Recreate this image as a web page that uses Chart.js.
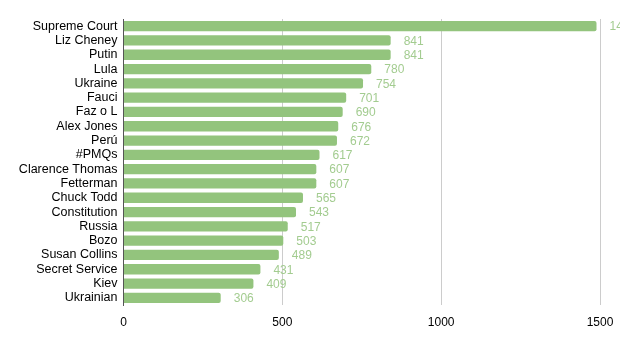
<!DOCTYPE html>
<html>
<head>
<meta charset="utf-8">
<script src="https://cdn.jsdelivr.net/npm/chart.js@4"></script>
<style>
  body { margin: 0; background: #fff; }
  canvas { display: block; }
</style>
</head>
<body>
<canvas id="chart" width="620" height="344"></canvas>
<script>
// mentions per topic
const topics = ['Supreme Court', 'Liz Cheney', 'Putin', 'Lula', 'Ukraine', 'Fauci', 'Faz o L',
  'Alex Jones', 'Perú', '#PMQs', 'Clarence Thomas', 'Fetterman', 'Chuck Todd', 'Constitution',
  'Russia', 'Bozo', 'Susan Collins', 'Secret Service', 'Kiev', 'Ukrainian'];
const counts = [1489, 841, 841, 780, 754, 701, 690, 676, 672, 617, 607, 607, 565, 543,
  517, 503, 489, 431, 409, 306];
const xTicks = [0, 500, 1000, 1500];

const green = '#93c47d';
const font = '"Liberation Sans", Arial, sans-serif';

// numbers to the right of each bar
const valueLabels = {
  id: 'valueLabels',
  afterDatasetsDraw(chart) {
    const ctx = chart.ctx;
    const meta = chart.getDatasetMeta(0);
    ctx.save();
    ctx.font = '12px ' + font;
    ctx.fillStyle = '#a3cc90';
    ctx.textBaseline = 'middle';
    meta.data.forEach((bar, i) => {
      ctx.fillText(String(counts[i]), bar.x + 13, bar.y + 1);
    });
    ctx.restore();
  }
};

new Chart(document.getElementById('chart'), {
  type: 'bar',
  data: {
    labels: topics,
    datasets: [{
      data: counts,
      backgroundColor: green,
      borderRadius: 2,
      borderSkipped: 'start',
      categoryPercentage: 1,
      barPercentage: 0.72
    }]
  },
  options: {
    indexAxis: 'y',
    responsive: false,
    animation: false,
    layout: { padding: { top: 19, right: 20, left: 0, bottom: 0 } },
    plugins: {
      legend: { display: false },
      tooltip: { enabled: false }
    },
    scales: {
      x: {
        min: 0,
        max: 1500,
        afterBuildTicks: (s) => { s.ticks = xTicks.map(v => ({ value: v })); },
        afterFit: (s) => { s.height = 39; s.paddingRight = 0; },
        grid: { color: '#cccccc', drawTicks: false },
        border: { display: false },
        ticks: {
          color: '#000',
          padding: 10,
          callback: (v) => String(v),
          font: { size: 12, family: font }
        }
      },
      y: {
        afterFit: (s) => { s.width = 123.5; },
        grid: { display: false, drawTicks: false },
        border: { display: true, color: '#555555', width: 1 },
        ticks: {
          color: '#000',
          padding: 6,
          autoSkip: false,
          font: { size: 12.5, family: font }
        }
      }
    }
  },
  plugins: [valueLabels]
});
</script>
</body>
</html>
